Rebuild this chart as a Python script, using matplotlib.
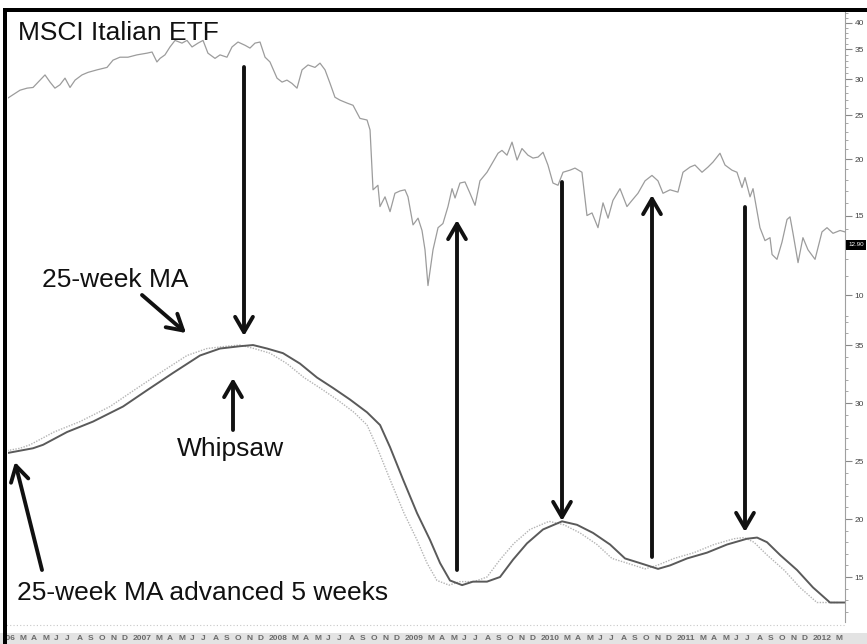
import matplotlib
matplotlib.use("Agg")
import matplotlib.pyplot as plt
from matplotlib.patches import Rectangle
from matplotlib.ticker import NullFormatter

plt.rcParams["font.family"] = ["Liberation Sans", "DejaVu Sans"]

W, H = 867, 644

# weekly closes of the MSCI Italy ETF (decimal year, price)
price_t = [2006.081, 2006.169, 2006.221, 2006.265, 2006.316, 2006.353, 2006.390, 2006.426, 2006.463, 2006.500,
           2006.537, 2006.574, 2006.625, 2006.669, 2006.735, 2006.809, 2006.853, 2006.904, 2006.963, 2007.029,
           2007.103, 2007.140, 2007.176, 2007.199, 2007.235, 2007.272, 2007.309, 2007.360, 2007.397, 2007.434,
           2007.478, 2007.515, 2007.551, 2007.603, 2007.640, 2007.691, 2007.728, 2007.772, 2007.824, 2007.860,
           2007.897, 2007.934, 2007.971, 2008.007, 2008.059, 2008.096, 2008.132, 2008.169, 2008.206, 2008.243,
           2008.287, 2008.338, 2008.375, 2008.412, 2008.449, 2008.485, 2008.522, 2008.574, 2008.618, 2008.669,
           2008.721, 2008.743, 2008.765, 2008.801, 2008.816, 2008.853, 2008.890, 2008.926, 2008.963, 2009.000,
           2009.022, 2009.059, 2009.096, 2009.125, 2009.147, 2009.169, 2009.206, 2009.243, 2009.279, 2009.316,
           2009.346, 2009.368, 2009.404, 2009.441, 2009.478, 2009.515, 2009.551, 2009.603, 2009.647, 2009.684,
           2009.713, 2009.750, 2009.787, 2009.824, 2009.860, 2009.904, 2009.941, 2009.978, 2010.015, 2010.051,
           2010.088, 2010.125, 2010.162, 2010.213, 2010.250, 2010.301, 2010.338, 2010.375, 2010.419, 2010.456,
           2010.493, 2010.529, 2010.581, 2010.632, 2010.669, 2010.713, 2010.765, 2010.816, 2010.860, 2010.897,
           2010.949, 2011.007, 2011.044, 2011.096, 2011.132, 2011.184, 2011.228, 2011.265, 2011.316, 2011.353,
           2011.404, 2011.441, 2011.478, 2011.500, 2011.537, 2011.559, 2011.610, 2011.647, 2011.684, 2011.699,
           2011.735, 2011.772, 2011.809, 2011.831, 2011.853, 2011.890, 2011.926, 2011.963, 2012.015, 2012.066,
           2012.103, 2012.147, 2012.199, 2012.235]
price = [27.3, 28.4, 28.7, 28.8, 29.9, 30.7, 29.6, 28.7, 29.2, 30.2,
         28.8, 29.9, 30.7, 31.1, 31.5, 31.9, 33.1, 33.6, 33.6, 34.0,
         34.3, 34.5, 32.8, 33.4, 34.0, 35.4, 36.6, 36.1, 36.6, 35.4,
         36.1, 36.6, 34.3, 33.4, 34.0, 33.6, 35.4, 36.3, 35.7, 35.2,
         36.1, 36.3, 33.6, 32.8, 30.2, 29.6, 29.9, 29.4, 28.7, 31.5,
         32.3, 31.9, 32.6, 31.5, 29.4, 27.4, 27.0, 26.6, 26.3, 24.6,
         24.4, 23.2, 17.1, 17.5, 15.7, 16.5, 15.3, 16.8, 17.0, 17.1,
         16.5, 14.3, 14.8, 13.9, 12.6, 10.5, 12.6, 14.1, 14.4, 15.7,
         17.2, 16.4, 17.7, 17.8, 16.8, 15.8, 17.9, 18.7, 19.7, 20.6,
         20.9, 20.4, 21.8, 19.9, 21.1, 20.4, 20.1, 20.2, 20.7, 19.4,
         17.7, 17.5, 18.7, 18.9, 19.1, 18.7, 15.0, 15.2, 14.1, 16.0,
         14.8, 16.2, 17.2, 15.7, 16.2, 16.8, 17.9, 18.4, 17.9, 16.8,
         17.1, 16.9, 18.7, 19.2, 19.4, 18.7, 19.2, 19.7, 20.6, 19.4,
         18.9, 18.7, 17.3, 18.2, 16.5, 17.2, 14.1, 13.2, 13.4, 12.3,
         12.0, 13.1, 14.7, 14.9, 13.7, 11.8, 13.4, 12.6, 12.0, 13.8,
         14.1, 13.7, 13.9, 13.8]

# 25-week moving average (decimal year, value)
ma_t = [2005.985, 2006.169, 2006.243, 2006.419, 2006.610, 2006.831, 2007.007, 2007.199, 2007.397, 2007.544,
        2007.691, 2007.787, 2007.890, 2008.007, 2008.132, 2008.257, 2008.375, 2008.500, 2008.625, 2008.721,
        2008.794, 2008.890, 2008.993, 2009.088, 2009.162, 2009.235, 2009.324, 2009.404, 2009.507, 2009.603,
        2009.699, 2009.801, 2009.919, 2010.059, 2010.169, 2010.287, 2010.412, 2010.522, 2010.632, 2010.765,
        2010.853, 2010.978, 2011.125, 2011.272, 2011.419, 2011.493, 2011.566, 2011.662, 2011.787, 2011.904,
        2012.029, 2012.103, 2012.191]
ma = [25.7, 26.1, 26.4, 27.5, 28.4, 29.7, 31.1, 32.6, 34.1, 34.7,
      34.9, 35.0, 34.7, 34.3, 33.4, 32.2, 31.3, 30.3, 29.2, 28.1,
      26.2, 23.4, 20.5, 18.2, 16.2, 14.7, 14.3, 14.6, 14.6, 15.0,
      16.5, 17.9, 19.1, 19.8, 19.5, 18.8, 17.8, 16.6, 16.2, 15.7,
      16.0, 16.6, 17.1, 17.8, 18.3, 18.4, 18.0, 16.9, 15.6, 14.1,
      12.8, 12.8, 12.8]
advance_weeks = 5

years = [2006, 2007, 2008, 2009, 2010, 2011, 2012]
month_letters = {3: "M", 4: "A", 5: "M", 6: "J", 7: "J", 8: "A", 9: "S", 10: "O", 11: "N", 12: "D"}
upper_ticks = [10, 15, 20, 25, 30, 35, 40]
lower_ticks = [15, 20, 25, 30, 35]
last_price_label = "12.90"


def px2t(x):
    # pixel column -> decimal year (136 px per year, Jan 2007 at x=133)
    return 2007 + (x - 133) / 136


def box(x0, y0, x1, y1):
    return [x0 / W, 1 - y1 / H, (x1 - x0) / W, (y1 - y0) / H]


def fp(x, y):
    return (x / W, 1 - y / H)


fig = plt.figure(figsize=(W / 100, H / 100), dpi=100)
fig.patch.set_facecolor("white")

ax_top = fig.add_axes(box(8, 12, 845, 320))
ax_bot = fig.add_axes(box(8, 320, 845, 622))
ax_strip = fig.add_axes(box(3, 622, 845, 644))

xlim = (px2t(8), px2t(845))

# price panel (log scale)
ax_top.plot(price_t, price, color="#9c9c9c", lw=0.9)
ax_top.set_yscale("log")
ax_top.set_ylim(8.81, 42.3)

# moving averages
shift = advance_weeks / 52.18
ax_bot.plot(ma_t, ma, color="#b4b4b4", lw=1.0, linestyle=(0, (1, 1)))
ax_bot.plot([t + shift for t in ma_t], ma, color="#5a5a5a", lw=1.4)
ax_bot.set_ylim(11.12, 37.16)

for ax, ticks, minor in [(ax_top, upper_ticks, range(9, 43)), (ax_bot, lower_ticks, range(12, 38))]:
    ax.set_facecolor("none")
    ax.set_xlim(*xlim)
    for s in ("left", "top", "bottom"):
        ax.spines[s].set_visible(False)
    ax.spines["right"].set_color("#a0a0a0")
    ax.spines["right"].set_linewidth(0.8)
    ax.yaxis.tick_right()
    ax.set_yticks(ticks, labels=[str(v) for v in ticks])
    ax.set_yticks(list(minor), minor=True)
    ax.yaxis.set_minor_formatter(NullFormatter())
    ax.tick_params(axis="y", which="major", length=5, width=0.8, color="#888888",
                   labelsize=6, labelcolor="#444444", pad=2)
    ax.tick_params(axis="y", which="minor", length=2.5, width=0.6, color="#999999")
    ax.set_xticks([])

# bottom date strip
fig.add_artist(Rectangle((0, 0), 1, 11 / H, transform=fig.transFigure,
                         facecolor="#e3e3e3", edgecolor="none", zorder=0))
ax_strip.set_facecolor("none")
ax_strip.set_xlim(px2t(3), px2t(845))
ax_strip.set_ylim(0, 1)
ax_strip.axis("off")
ax_strip.axhline(0.86, color="#c8c8c8", lw=0.8, linestyle=(0, (1, 2)))
strip_end = px2t(838)
for yr in years:
    ax_strip.text(yr, 0.25, str(yr), fontsize=6, color="#6a6a6a", fontweight="bold",
                  ha="left", va="center", clip_on=True)
    for m, letter in month_letters.items():
        t = yr + (m - 1) / 12
        if t > strip_end:
            break
        ax_strip.text(t, 0.25, letter, fontsize=6, color="#6a6a6a",
                      fontweight="bold", ha="left", va="center", clip_on=True)

# black frame on top and left
fig.add_artist(Rectangle(fp(3, 12), (W - 3) / W, 4 / H, transform=fig.transFigure,
                         facecolor="black", edgecolor="none"))
fig.add_artist(Rectangle(fp(3, 644), 4 / W, 632 / H, transform=fig.transFigure,
                         facecolor="black", edgecolor="none"))

# last price marker on the axis
fig.text(856 / W, 1 - 245 / H, last_price_label, fontsize=4.5, color="white", ha="center", va="center",
         bbox=dict(boxstyle="square,pad=0.35", facecolor="black", edgecolor="none"))

# annotations
arrow = dict(arrowstyle="->,head_length=0.55,head_width=0.32", lw=2.8, color="#111111",
             shrinkA=0, shrinkB=0, mutation_scale=20)
arrows = [((244, 67), (244, 336)), ((457, 570), (457, 220)), ((562, 182), (562, 521)),
          ((652, 557), (652, 195)), ((745, 207), (745, 532)), ((233, 430), (233, 378)),
          ((142, 295), (186, 333)), ((42, 570), (15, 462))]
for start, end in arrows:
    ax_bot.annotate("", xy=fp(*end), xytext=fp(*start), xycoords="figure fraction",
                    textcoords="figure fraction", arrowprops=arrow)

labels = [("MSCI Italian ETF", 18, 40), ("25-week MA", 42, 287), ("Whipsaw", 177, 456),
          ("25-week MA advanced 5 weeks", 17, 600)]
for txt, x, y in labels:
    fig.text(x / W, 1 - y / H, txt, fontsize=19, color="#111111", ha="left", va="baseline")

plt.savefig("out.png", dpi=100)
plt.close()
